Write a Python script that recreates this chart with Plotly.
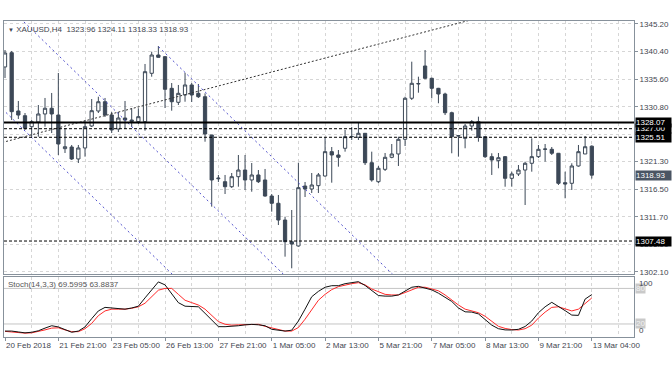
import plotly.graph_objects as go

# ---------------- data ----------------
bar_idx = list(range(89))

opens = [1337.73, 1340.21, 1330.08, 1329.26, 1327.35, 1328.17, 1329.56, 1330.55, 1329.38, 1323.53,
         1323.82, 1321.74, 1323.65, 1327.47, 1330.08, 1331.69, 1329.38, 1326.95, 1328.86, 1328.25,
         1328.22, 1328.22, 1336.63, 1339.81, 1339.52, 1334.02, 1331.59, 1332.86, 1334.60, 1333.15,
         1332.56, 1325.91, 1318.30, 1317.79, 1316.92, 1318.66, 1319.82, 1318.09, 1318.96, 1318.09,
         1315.30, 1314.04, 1311.13, 1307.36, 1306.62, 1317.04, 1316.52, 1317.10, 1318.78, 1323.01,
         1322.43, 1323.60, 1325.61, 1325.51, 1326.20, 1321.09, 1317.79, 1319.94, 1322.03, 1322.61,
         1325.16, 1332.29, 1334.77, 1337.90, 1335.76, 1334.02, 1333.03, 1329.78, 1325.73, 1325.33,
         1327.47, 1328.22, 1325.61, 1322.14, 1321.44, 1322.14, 1318.38, 1319.13, 1319.82, 1320.99,
         1322.14, 1323.42, 1323.42, 1322.73, 1317.62, 1317.51, 1320.52, 1322.61, 1323.96]
highs = [1340.68, 1340.51, 1331.82, 1329.73, 1328.51, 1331.12, 1332.34, 1333.21, 1336.68, 1327.12,
         1324.17, 1324.17, 1328.51, 1332.16, 1332.56, 1332.34, 1329.90, 1329.90, 1331.82, 1330.55,
         1330.55, 1338.25, 1340.38, 1341.37, 1339.60, 1334.94, 1334.60, 1336.73, 1334.94, 1334.77,
         1333.15, 1325.95, 1318.96, 1318.96, 1319.30, 1322.43, 1322.43, 1321.04, 1319.82, 1320.00,
         1315.65, 1315.48, 1311.71, 1312.87, 1321.09, 1317.74, 1319.30, 1319.30, 1325.56, 1323.82,
         1323.30, 1326.78, 1327.30, 1327.99, 1326.25, 1323.01, 1320.52, 1322.78, 1324.34, 1325.61,
         1332.56, 1338.65, 1336.04, 1340.68, 1335.87, 1334.10, 1333.26, 1329.96, 1325.91, 1327.82,
         1328.51, 1329.09, 1325.73, 1322.73, 1322.78, 1322.25, 1319.53, 1320.69, 1321.27, 1325.33,
         1324.17, 1324.34, 1323.82, 1322.78, 1319.53, 1320.99, 1324.17, 1325.73, 1324.11]
lows = [1335.81, 1328.51, 1328.69, 1326.78, 1325.61, 1325.61, 1327.35, 1326.25, 1322.43, 1322.78,
        1321.56, 1321.04, 1322.14, 1327.30, 1329.73, 1329.04, 1326.25, 1326.43, 1326.95, 1327.30,
        1327.82, 1326.65, 1336.04, 1339.35, 1330.60, 1330.13, 1331.12, 1331.69, 1331.64, 1332.34,
        1324.74, 1313.45, 1317.74, 1315.65, 1316.70, 1316.92, 1316.35, 1316.05, 1317.56, 1315.18,
        1312.58, 1310.26, 1304.76, 1302.74, 1306.49, 1315.13, 1315.83, 1315.83, 1318.66, 1317.62,
        1320.40, 1323.01, 1325.04, 1325.04, 1320.69, 1317.79, 1317.56, 1319.65, 1321.86, 1320.52,
        1323.99, 1331.99, 1333.26, 1335.59, 1332.29, 1331.42, 1329.38, 1322.73, 1322.14, 1323.60,
        1326.65, 1324.74, 1321.91, 1318.96, 1320.12, 1316.92, 1316.92, 1318.78, 1313.74, 1319.53,
        1321.91, 1321.27, 1322.43, 1317.22, 1314.91, 1316.35, 1320.40, 1322.61, 1318.33]
closes = [1340.16, 1329.96, 1329.38, 1327.07, 1328.22, 1329.56, 1330.55, 1329.56, 1324.34, 1323.87,
          1321.74, 1323.65, 1327.35, 1330.13, 1331.69, 1329.38, 1326.78, 1328.86, 1328.51, 1328.51,
          1329.09, 1336.91, 1339.81, 1339.41, 1333.85, 1331.69, 1333.15, 1334.60, 1332.86, 1332.56,
          1326.08, 1318.09, 1318.40, 1316.92, 1318.66, 1319.82, 1318.09, 1318.96, 1317.79, 1315.30,
          1314.04, 1311.13, 1307.36, 1306.96, 1316.75, 1316.52, 1317.22, 1318.96, 1323.01, 1322.43,
          1322.03, 1325.61, 1325.65, 1326.20, 1321.09, 1318.09, 1320.12, 1322.03, 1322.61, 1325.16,
          1332.29, 1334.89, 1334.85, 1335.76, 1334.02, 1333.03, 1329.78, 1325.61, 1325.80, 1327.47,
          1328.22, 1325.51, 1322.14, 1321.56, 1321.96, 1318.38, 1319.13, 1319.82, 1320.99, 1322.14,
          1323.42, 1323.46, 1322.73, 1317.51, 1317.39, 1320.52, 1323.01, 1323.87, 1318.93]

stoch_k = [8, 8, 6.5, 5, 6, 8.5, 13, 17, 15, 10,
           6, 8, 15, 29, 42, 48, 47, 45, 45, 47,
           50, 64, 78, 91, 86, 70, 56, 50, 49, 49,
           38, 27, 15.5, 15.4, 16, 17, 18.5, 19.3, 18.6, 17,
           11, 9, 8, 9.5, 25, 45, 66, 75, 82, 84.6,
           84.6, 88, 90, 91.4, 85, 77, 68, 67, 67, 69,
           76, 82, 83.5, 81, 77.5, 72, 65, 58, 47, 40.5,
           40, 37, 27.5, 18, 12, 10, 9.8, 11, 15.7, 25,
           39, 49, 56.5, 50, 42.5, 35, 34.5, 62, 69.6]
stoch_d = [7.5, 6.5, 5.5, 4.5, 5, 7, 10, 13, 13.5, 10,
           7, 7, 12, 21, 34, 42, 45, 45, 45, 46.5,
           49, 55, 66, 77, 80, 80, 70, 60, 56, 52,
           45, 35, 24, 19.5, 18, 18.5, 19, 19.2, 19.4, 16,
           13, 10, 8, 8, 14, 28, 43, 60, 70, 78,
           83, 86, 88, 89.7, 86, 79, 74, 70, 69, 69,
           73, 78, 82, 82, 79, 76, 69, 60, 52, 45,
           42, 39, 33, 24, 16, 12.5, 10.5, 9.8, 12, 18,
           30, 40, 48, 49, 46, 42, 45, 55, 63.9]
stoch_label = "Stoch(14,3,3) 69.5995 63.8837"
stoch_levels = [80, 20]

symbol = "XAUUSD,H4"

price_ticks = [1345.20, 1340.40, 1335.60, 1330.80, 1326.00, 1321.30, 1316.50, 1311.70, 1306.90, 1302.10]
time_tick_idx = [0, 8, 16, 24, 32, 40, 48, 56, 64, 72, 80, 88]
time_tick_text = ["20 Feb 2018", "21 Feb 21:00", "23 Feb 05:00", "26 Feb 13:00", "27 Feb 21:00",
                  "1 Mar 05:00", "2 Mar 13:00", "5 Mar 21:00", "7 Mar 05:00", "8 Mar 13:00",
                  "9 Mar 21:00", "13 Mar 04:00"]
grid_minor_idx = [4, 12, 20, 28, 36, 44, 52, 60, 68, 76, 84, 92]

solid_level = 1328.07
dashed_levels = [1327.00, 1325.51, 1307.48]

# drawn trend / channel lines: (bar index pairs, price pairs)
trend_x = [-1, 75]
trend_y = [1324.43, 1347.46]
chan1_x = [-2, 45]
chan1_y = [1351.02, 1298.05]
chan2_x = [-2, 26]
chan2_y = [1332.24, 1300.68]
chan3_x = [23.03, 60]
chan3_y = [1341.25, 1299.58]

# ---------------- styling ----------------
CANDLE = "#3c4857"
GRID = "#d6d6d6"
FRAME = "#87919b"
TXT = "#3f4650"
FONT = "Liberation Sans, Arial, sans-serif"
FS = 8
X_RANGE = [-0.15, 94.33]
Y_RANGE = [1301.75, 1345.72]
CHAN = "#4f4fcc"

fig = go.Figure()

fig.add_trace(go.Candlestick(
    x=bar_idx, open=opens, high=highs, low=lows, close=closes,
    increasing=dict(line=dict(color=CANDLE, width=1), fillcolor="white"),
    decreasing=dict(line=dict(color=CANDLE, width=1), fillcolor=CANDLE),
    xaxis="x", yaxis="y", showlegend=False, hoverinfo="skip"))

for xs, ys, col, dash in [
    (trend_x, trend_y, "#333333", "2px,2px"),
    (chan1_x, chan1_y, CHAN, "2px,3px"),
    (chan2_x, chan2_y, CHAN, "2px,3px"),
    (chan3_x, chan3_y, CHAN, "2px,3px"),
]:
    fig.add_trace(go.Scatter(x=xs, y=ys, mode="lines", xaxis="x", yaxis="y",
                             line=dict(color=col, width=1, dash=dash),
                             showlegend=False, hoverinfo="skip"))

fig.add_trace(go.Scatter(x=bar_idx, y=stoch_d, mode="lines", xaxis="x2", yaxis="y2",
                         line=dict(color="#ff2a2a", width=1), showlegend=False, hoverinfo="skip"))
fig.add_trace(go.Scatter(x=bar_idx, y=stoch_k, mode="lines", xaxis="x2", yaxis="y2",
                         line=dict(color="#111111", width=1), showlegend=False, hoverinfo="skip"))

shapes = []
shapes.append(dict(type="line", xref="x domain", yref="y", x0=0, x1=1, y0=solid_level, y1=solid_level,
                   line=dict(color="#000000", width=2)))
for lv in dashed_levels:
    shapes.append(dict(type="line", xref="x domain", yref="y", x0=0, x1=1, y0=lv, y1=lv,
                       line=dict(color="#000000", width=1, dash="3px,2px")))
for lv in stoch_levels:
    shapes.append(dict(type="line", xref="x2 domain", yref="y2", x0=0, x1=1, y0=lv, y1=lv,
                       line=dict(color="#c4c4c4", width=1), layer="below"))

annotations = []
annotations.append(dict(
    xref="paper", yref="paper", x=0, y=1, xanchor="left", yanchor="top", xshift=2, yshift=-2,
    text="<span style='font-size:6px'>▼</span> " + symbol + "\u00a0\u00a0" +
         " ".join(f"{v:.2f}" for v in (opens[-1], highs[-1], lows[-1], closes[-1])),
    showarrow=False, font=dict(family=FONT, size=FS, color=TXT)))
annotations.append(dict(
    xref="paper", yref="y2 domain", x=0, y=1, xanchor="left", yanchor="top", xshift=2, yshift=-1,
    text=stoch_label, showarrow=False, font=dict(family=FONT, size=FS, color="#555555")))

# right side price tags (drawn in order, later on top)
tags = [(dashed_levels[0], "#000000"), (solid_level, "#000000"), (dashed_levels[1], "#000000"),
        (dashed_levels[2], "#000000"), (closes[-1], "#4a5563")]
for p, bg in tags:
    annotations.append(dict(xref="paper", yref="y", x=1, y=p, xanchor="left", yanchor="middle",
                            xshift=1, text=f"{p:.2f}", showarrow=False, bgcolor=bg,
                            width=35, height=9, align="left", borderpad=0,
                            font=dict(family=FONT, size=FS, color="white")))
for lv in stoch_levels:
    annotations.append(dict(xref="paper", yref="y2", x=1, y=lv, xanchor="left", yanchor="middle",
                            xshift=1, text=str(lv), showarrow=False, bgcolor="#c9c9c9",
                            height=9, borderpad=0,
                            font=dict(family=FONT, size=FS, color="#f2f2f2")))
annotations.append(dict(xref="paper", yref="y2 domain", x=1, y=1, xanchor="left", yanchor="top",
                        xshift=3, text="100", showarrow=False, font=dict(family=FONT, size=FS, color=TXT)))
annotations.append(dict(xref="paper", yref="y2 domain", x=1, y=0, xanchor="left", yanchor="bottom",
                        xshift=3, text="0", showarrow=False, font=dict(family=FONT, size=FS, color=TXT)))

fig.update_layout(
    width=672, height=372,
    margin=dict(l=3, r=36, t=21, b=35),
    paper_bgcolor="white", plot_bgcolor="white",
    showlegend=False,
    shapes=shapes, annotations=annotations,
    font=dict(family=FONT, size=FS, color=TXT),
    xaxis=dict(domain=[0, 1], range=X_RANGE, anchor="y", showticklabels=False,
               tickvals=time_tick_idx, ticks="", showgrid=True, gridcolor=GRID, griddash="dot",
               minor=dict(tickvals=grid_minor_idx, showgrid=True, gridcolor=GRID, griddash="dot", ticks=""),
               showline=True, mirror=True, linecolor=FRAME, linewidth=1, zeroline=False,
               rangeslider=dict(visible=False)),
    yaxis=dict(domain=[0.1994, 1], range=Y_RANGE, anchor="x", side="right",
               tickvals=price_ticks, ticktext=[f"{v:.2f}" for v in price_ticks],
               ticks="outside", ticklen=3, tickcolor=FRAME, tickfont=dict(size=FS, color=TXT),
               showgrid=True, gridcolor=GRID, griddash="dot",
               showline=True, mirror=True, linecolor=FRAME, linewidth=1, zeroline=False),
    xaxis2=dict(domain=[0, 1], range=X_RANGE, anchor="y2", matches="x",
                tickvals=time_tick_idx, ticktext=time_tick_text, ticks="outside", ticklen=3,
                tickangle=0, tickcolor=FRAME, ticklabelposition="outside right",
                tickfont=dict(size=FS, color=TXT),
                showgrid=True, gridcolor=GRID, griddash="dot",
                minor=dict(tickvals=grid_minor_idx, showgrid=True, gridcolor=GRID, griddash="dot", ticks=""),
                showline=True, mirror=True, linecolor=FRAME, linewidth=1, zeroline=False),
    yaxis2=dict(domain=[0, 0.1899], range=[-2, 99.3], anchor="x2", side="right",
                showticklabels=False, ticks="", showgrid=False,
                showline=True, mirror=True, linecolor=FRAME, linewidth=1, zeroline=False),
)

fig.write_html("out.html", config={"displayModeBar": False},
               post_script="document.body.style.margin='0px';")
